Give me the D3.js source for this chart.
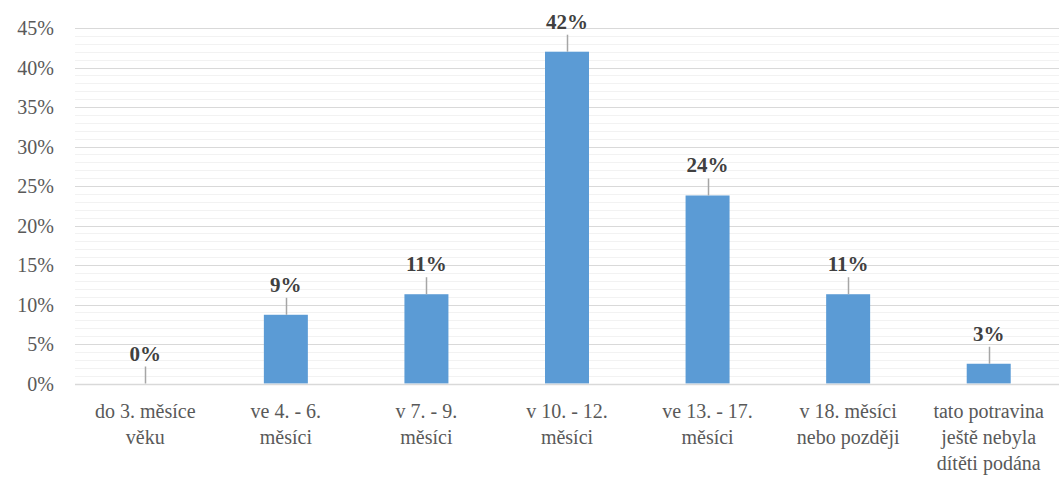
<!DOCTYPE html>
<html>
<head>
<meta charset="utf-8">
<script src="https://cdn.jsdelivr.net/npm/d3@7"></script>
<style>
  body { margin: 0; background: #fff; }
</style>
</head>
<body>
<div id="chart"></div>
<script>
const categories = [
  ['do 3. měsíce', 'věku'],
  ['ve 4. - 6.', 'měsíci'],
  ['v 7. - 9.', 'měsíci'],
  ['v 10. - 12.', 'měsíci'],
  ['ve 13. - 17.', 'měsíci'],
  ['v 18. měsíci', 'nebo později'],
  ['tato potravina', 'ještě nebyla', 'dítěti podána'],
];
const values = [0, 8.7, 11.3, 42.0, 23.8, 11.3, 2.5];
const labels = ['0%', '9%', '11%', '42%', '24%', '11%', '3%'];
const majorTicks = d3.range(0, 46, 5);
const minorTicks = d3.range(0, 46, 1).filter((d) => d % 5 !== 0);

const width = 1059;
const height = 479;
const margin = { top: 28, right: 0, bottom: 95, left: 75 };
const serif = "'Liberation Serif', Tinos, 'Times New Roman', Times, 'DejaVu Serif', 'Noto Serif', FreeSerif, serif";

const svg = d3.select('#chart')
  .append('svg')
  .attr('width', width)
  .attr('height', height)
  .style('font-family', serif);

const x = d3.scaleBand()
  .domain(d3.range(categories.length))
  .range([margin.left, width - margin.right]);

const y = d3.scaleLinear()
  .domain([0, 45])
  .range([height - margin.bottom - 0.5, margin.top]);

// minor gridlines
svg.append('g')
  .selectAll('line')
  .data(minorTicks)
  .join('line')
  .attr('x1', margin.left)
  .attr('x2', width - margin.right)
  .attr('y1', (d) => Math.round(y(d)) + 0.5)
  .attr('y2', (d) => Math.round(y(d)) + 0.5)
  .attr('stroke', '#f2f2f2');

// major gridlines
svg.append('g')
  .selectAll('line')
  .data(majorTicks.filter((d) => d > 0))
  .join('line')
  .attr('x1', margin.left)
  .attr('x2', width - margin.right)
  .attr('y1', (d) => Math.round(y(d)) + 0.5)
  .attr('y2', (d) => Math.round(y(d)) + 0.5)
  .attr('stroke', '#d9d9d9');

// y tick labels
svg.append('g')
  .selectAll('text')
  .data(majorTicks)
  .join('text')
  .attr('x', 54)
  .attr('y', (d) => y(d))
  .attr('dy', '0.35em')
  .attr('text-anchor', 'end')
  .attr('fill', '#595959')
  .style('font-size', '20px')
  .text((d) => `${d}%`);

const barW = 44;

svg.append('g')
  .selectAll('rect')
  .data(values)
  .join('rect')
  .attr('x', (d, i) => x(i) + x.bandwidth() / 2 - barW / 2)
  .attr('y', (d) => y(d))
  .attr('width', barW)
  .attr('height', (d) => y(0) - y(d))
  .attr('fill', '#5b9bd5');

// baseline
svg.append('line')
  .attr('x1', margin.left)
  .attr('x2', width - margin.right)
  .attr('y1', Math.round(y(0)) + 0.5)
  .attr('y2', Math.round(y(0)) + 0.5)
  .attr('stroke', '#d9d9d9')
  .attr('stroke-width', 1.5);

// leader lines from labels down to bars
svg.append('g')
  .selectAll('line')
  .data(values)
  .join('line')
  .attr('x1', (d, i) => Math.round(x(i) + x.bandwidth() / 2) + 0.5)
  .attr('x2', (d, i) => Math.round(x(i) + x.bandwidth() / 2) + 0.5)
  .attr('y1', (d) => y(d))
  .attr('y2', (d) => y(d) - 17)
  .attr('stroke', '#a6a6a6')
  .attr('stroke-width', 1.5);

// data labels
svg.append('g')
  .selectAll('text')
  .data(values)
  .join('text')
  .attr('x', (d, i) => x(i) + x.bandwidth() / 2)
  .attr('y', (d) => y(d) - 23)
  .attr('text-anchor', 'middle')
  .attr('fill', '#404040')
  .style('font-size', '21px')
  .style('font-weight', 'bold')
  .text((d, i) => labels[i]);

// category labels
const cat = svg.append('g')
  .selectAll('text')
  .data(categories)
  .join('text')
  .attr('x', (d, i) => x(i) + x.bandwidth() / 2)
  .attr('y', 418)
  .attr('text-anchor', 'middle')
  .attr('fill', '#595959')
  .style('font-size', '20px');

cat.selectAll('tspan')
  .data((d) => d)
  .join('tspan')
  .attr('x', function() { return d3.select(this.parentNode).attr('x'); })
  .attr('dy', (d, i) => (i === 0 ? 0 : 26))
  .text((d) => d);
</script>
</body>
</html>
